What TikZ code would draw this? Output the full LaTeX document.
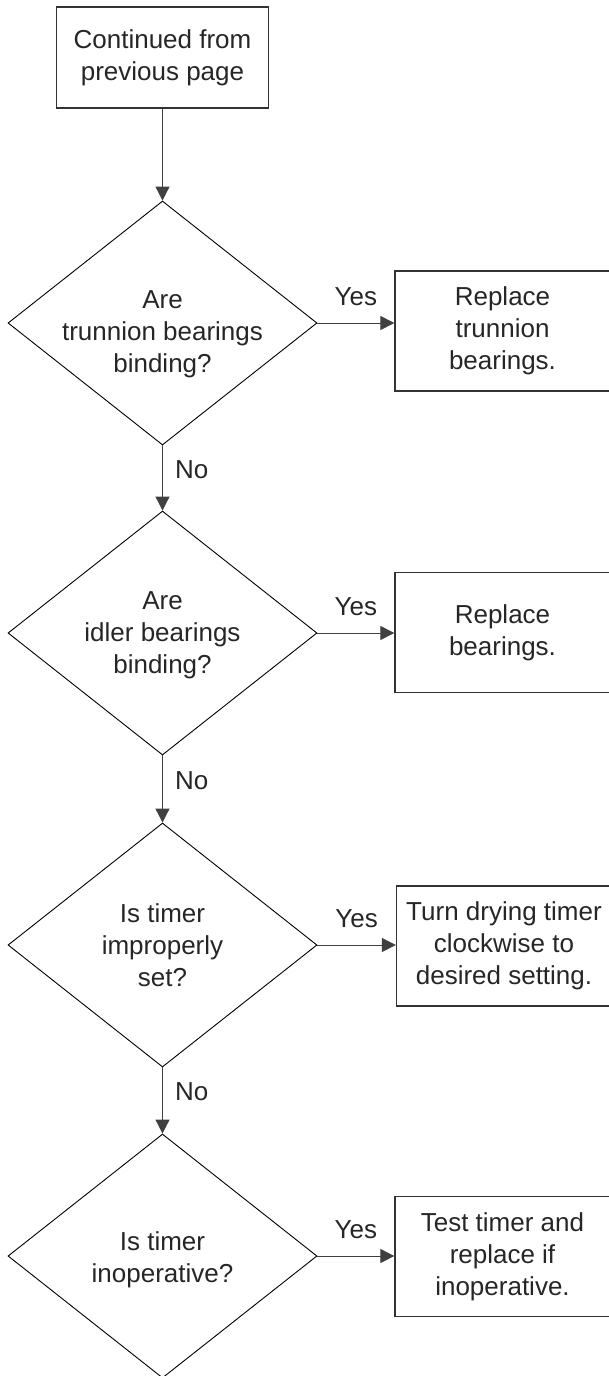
\documentclass[tikz,border=0pt]{standalone}
\usepackage{fontspec}
\setmainfont{Liberation Sans}
\usetikzlibrary{shapes.geometric, arrows.meta}
\begin{document}
\begin{tikzpicture}[x=1pt, y=-1pt]
\tikzstyle{every node} = [font=\fontsize{26}{32}\selectfont, text=black!85, align=center]
\tikzstyle{box} = [rectangle, draw=black!80, line width=1.3pt, minimum width=215pt, minimum height=120pt, inner sep=0pt]
\tikzstyle{decision} = [diamond, draw, line width=0.9pt, minimum width=309pt, minimum height=244pt, inner sep=0pt]
\tikzstyle{arrow} = [draw=black!75, line width=1pt, -{Triangle[length=14pt, width=14pt]}]
\tikzstyle{yes} = [midway, above=17pt, inner sep=0pt]
\tikzstyle{no} = [pos=0.37, right=12pt, inner sep=0pt]
\useasboundingbox (0,0) rectangle (608,1376);
\node[box, minimum width=212pt, minimum height=101pt] (start) at (162.5, 57.5) {Continued from\\previous page};
\node[decision] (q1) at (162.5, 323) {};
\node[decision] (q2) at (162.5, 633) {};
\node[decision] (q3) at (162.5, 945) {};
\node[decision] (q4) at (162.5, 1256) {};
\node (t1) at (162.5, 334.5) {Are\\trunnion bearings\\binding?};
\node (t2) at (162.5, 635.5) {Are\\idler bearings\\binding?};
\node (t3) at (162.5, 945.5) {Is timer\\improperly\\set?};
\node (t4) at (162.5, 1259.5) {Is timer\\inoperative?};
\node[box] (a1) at (502.5, 331) {Replace\\trunnion\\bearings.};
\node[box] (a2) at (502.5, 632.5) {Replace\\bearings.};
\node[box] (a3) at (504, 946) {Turn drying timer\\clockwise to\\desired setting.};
\node[box] (a4) at (502.5, 1256.5) {Test timer and\\replace if\\inoperative.};
\draw[arrow] (start.south) -- (q1.north);
\foreach \from/\to in {q1/q2, q2/q3, q3/q4}
\draw[arrow] (\from.south) -- (\to.north) node[no] {No};
\foreach \i in {1,...,4}
\draw[arrow] (q\i.east) -- (q\i.east -| a\i.west) node[yes] {Yes};
\end{tikzpicture}
\end{document}
